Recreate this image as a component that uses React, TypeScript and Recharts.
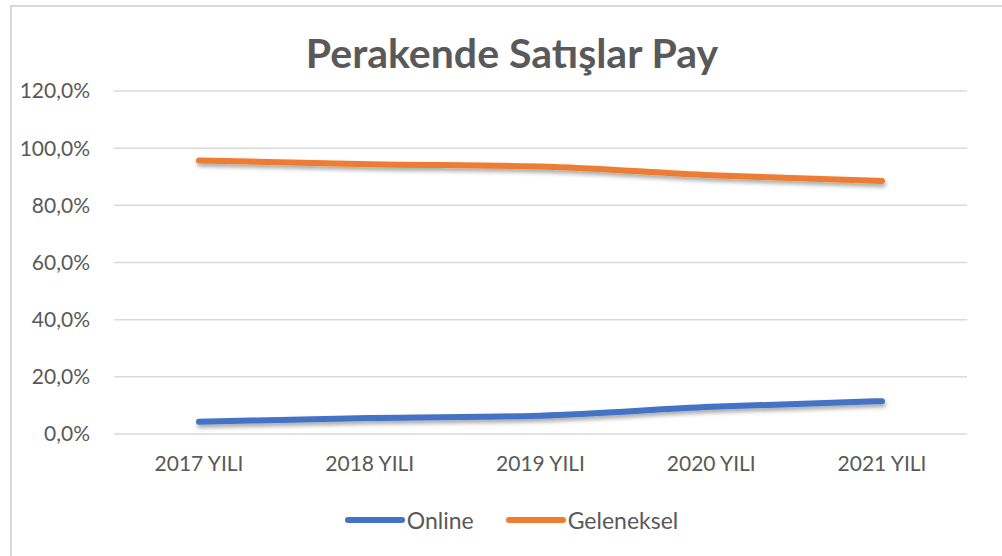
import { LineChart, Line, XAxis, YAxis, CartesianGrid, Legend } from 'recharts'

const years = ['2017 YILI', '2018 YILI', '2019 YILI', '2020 YILI', '2021 YILI']
const online = [4.3, 5.6, 6.4, 9.5, 11.5]
const geleneksel = [95.7, 94.4, 93.6, 90.5, 88.5]
const yTicks = [0, 20, 40, 60, 80, 100, 120]
const seriesOrder = ['online', 'geleneksel']
const seriesNames: Record<string, string> = { online: 'Online', geleneksel: 'Geleneksel' }

const rows = years.map((y, i) => ({ year: y, online: online[i], geleneksel: geleneksel[i] }))

const font = 'Lato, "Open Sans", sans-serif'
const gray = '#595959'
const tick = { fill: gray, fontSize: 21, fontFamily: font }

const pct = (v: number) => v.toFixed(1).replace('.', ',') + '%'

// eslint-disable-next-line @typescript-eslint/no-explicit-any
function LegendBox({ payload }: any) {
  const items = [...(payload || [])].sort(
    (a: any, b: any) => seriesOrder.indexOf(a.dataKey) - seriesOrder.indexOf(b.dataKey),
  )
  return (
    <div style={{ display: 'flex', justifyContent: 'center', gap: 32, fontFamily: font, fontSize: 23, color: gray, paddingLeft: 42 }}>
      {items.map((p: any) => (
        <div key={p.dataKey} style={{ display: 'flex', alignItems: 'center' }}>
          <span style={{ display: 'inline-block', width: 60, height: 6, borderRadius: 3, background: p.color, marginRight: 2 }} />
          {seriesNames[p.dataKey]}
        </div>
      ))}
    </div>
  )
}

export default function App() {
  return (
    <div style={{ position: 'absolute', left: 0, top: 0, width: 1002, height: 556, background: '#fff', overflow: 'hidden' }}>
      <div style={{ position: 'absolute', left: 10, top: 5, width: 1010, height: 570, border: '2px solid #d9d9d9', boxSizing: 'border-box' }} />
      <div
        style={{
          position: 'absolute',
          left: 0,
          width: 1024,
          top: 28,
          textAlign: 'center',
          fontFamily: font,
          fontWeight: 700,
          fontSize: 41,
          color: gray,
        }}
      >
        Perakende Satışlar Pay
      </div>
      <div style={{ position: 'absolute', left: 0, top: 0 }}>
        <LineChart width={1002} height={556} data={rows} margin={{ top: 91, right: 35, left: 14, bottom: 54 }}>
          <defs>
            <filter id="sh" x="-5%" y="-50%" width="110%" height="200%">
              <feDropShadow dx="1" dy="3" stdDeviation="2" floodColor="#000" floodOpacity="0.35" />
            </filter>
          </defs>
          <CartesianGrid stroke="#d9d9d9" strokeWidth={1.5} vertical={false} />
          <XAxis
            dataKey="year"
            tick={tick}
            tickLine={false}
            axisLine={false}
            tickSize={0}
            tickMargin={22}
            height={40}
            padding={{ left: 85, right: 85 }}
          />
          <YAxis
            domain={[0, 120]}
            ticks={yTicks}
            tickFormatter={pct}
            tick={tick}
            tickLine={false}
            axisLine={false}
            tickSize={0}
            tickMargin={24}
            width={100}
          />
          <Legend verticalAlign="bottom" wrapperStyle={{ bottom: 22 }} content={<LegendBox />} />
          <Line
            type="monotone"
            dataKey="online"
            stroke="#4472C4"
            strokeWidth={6}
            strokeLinecap="round"
            dot={false}
            filter="url(#sh)"
            isAnimationActive={false}
          />
          <Line
            type="monotone"
            dataKey="geleneksel"
            stroke="#ED7D31"
            strokeWidth={6}
            strokeLinecap="round"
            dot={false}
            filter="url(#sh)"
            isAnimationActive={false}
          />
        </LineChart>
      </div>
    </div>
  )
}
